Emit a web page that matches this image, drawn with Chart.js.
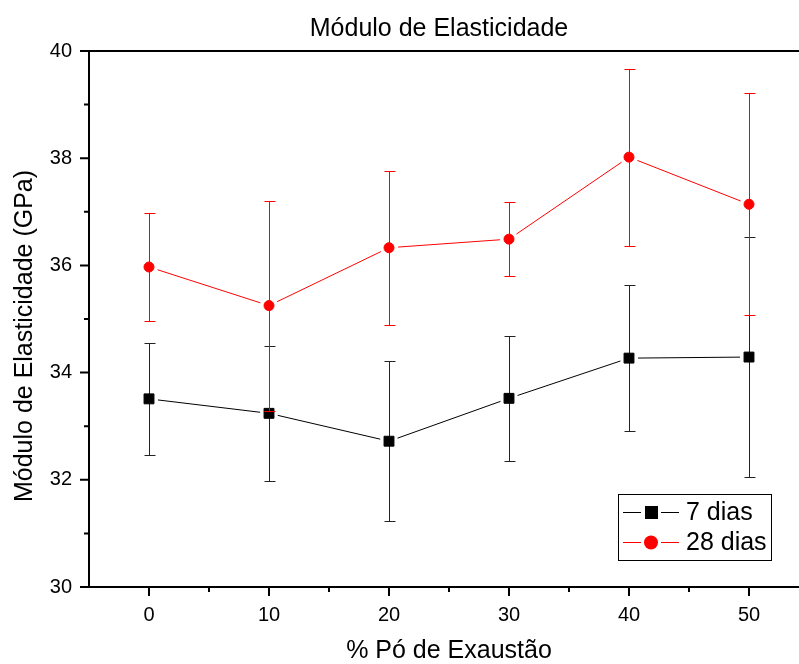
<!doctype html>
<html lang="pt-BR">
<head>
<meta charset="UTF-8">
<title>Módulo de Elasticidade</title>
<script src="https://cdn.jsdelivr.net/npm/chart.js@4"></script>
<style>
  html, body { margin: 0; padding: 0; background: #fff; overflow: hidden; }
  #grafico { display: block; }
</style>
</head>
<body>
<canvas id="grafico" width="878" height="664"></canvas>

<script>
// teor de pó de exaustão (%)
const dosagens = [0, 10, 20, 30, 40, 50];

// módulo de elasticidade (GPa) e desvio padrão
const media7 = [33.51, 33.24, 32.72, 33.52, 34.27, 34.29];
const erro7 = [1.04, 1.26, 1.49, 1.17, 1.36, 2.24];
const media28 = [35.97, 35.25, 36.33, 36.49, 38.02, 37.14];
const erro28 = [1.01, 1.96, 1.44, 0.69, 1.65, 2.07];

const ticksX = [0, 10, 20, 30, 40, 50];
const menoresX = [5, 15, 25, 35, 45];
const ticksY = [30, 32, 34, 36, 38, 40];
const menoresY = [31, 33, 35, 37, 39];

const fonte = '"Liberation Sans", Arial, sans-serif';

// linhas com folga em volta dos símbolos + barras de erro, antes dos pontos
const tracos = {
    id: 'tracos',
    beforeDatasetDraw(chart, args) {
        const ds = chart.data.datasets[args.index];
        const pts = args.meta.data;
        const ctx = chart.ctx;
        const y = chart.scales.y;
        const folga = 9;

        ctx.save();
        ctx.lineWidth = 1;
        ctx.strokeStyle = ds.borderColor;
        ctx.beginPath();
        for (let i = 1; i < pts.length; i++) {
            const a = pts[i - 1], b = pts[i];
            const dx = b.x - a.x, dy = b.y - a.y;
            const len = Math.hypot(dx, dy);
            if (len <= 2 * folga) continue;
            ctx.moveTo(a.x + dx * folga / len, a.y + dy * folga / len);
            ctx.lineTo(b.x - dx * folga / len, b.y - dy * folga / len);
        }
        ctx.stroke();

        ctx.strokeStyle = ds.corErro;
        ctx.beginPath();
        ds.erros.forEach((e, i) => {
            const x = Math.round(pts[i].x) + 0.5;
            const v = ds.data[i].y;
            const yTop = Math.round(y.getPixelForValue(v + e)) + 0.5;
            const yBot = Math.round(y.getPixelForValue(v - e)) + 0.5;
            ctx.moveTo(x, yTop);
            ctx.lineTo(x, yBot);
            ctx.moveTo(x - 5, yTop);
            ctx.lineTo(x + 6, yTop);
            ctx.moveTo(x - 5, yBot);
            ctx.lineTo(x + 6, yBot);
        });
        ctx.stroke();
        ctx.restore();
    }
};

// moldura, marcas dos eixos, título do eixo y e legenda
const moldura = {
    id: 'moldura',
    afterDraw(chart) {
        const { ctx, chartArea: a, scales: { x, y } } = chart;
        ctx.save();
        ctx.strokeStyle = '#000';
        ctx.lineWidth = 2;
        ctx.strokeRect(a.left, a.top, a.right - a.left, a.bottom - a.top);

        ctx.beginPath();
        ticksX.forEach(v => { const p = x.getPixelForValue(v); ctx.moveTo(p, a.bottom); ctx.lineTo(p, a.bottom + 9); });
        menoresX.forEach(v => { const p = x.getPixelForValue(v); ctx.moveTo(p, a.bottom); ctx.lineTo(p, a.bottom + 5); });
        ticksY.forEach(v => { const p = y.getPixelForValue(v); ctx.moveTo(a.left, p); ctx.lineTo(a.left - 9, p); });
        menoresY.forEach(v => { const p = y.getPixelForValue(v); ctx.moveTo(a.left, p); ctx.lineTo(a.left - 5, p); });
        ctx.stroke();

        // título do eixo y
        ctx.save();
        ctx.translate(25, (a.top + a.bottom) / 2 + 17);
        ctx.rotate(-Math.PI / 2);
        ctx.fillStyle = '#000';
        ctx.font = '25px ' + fonte;
        ctx.textAlign = 'center';
        ctx.textBaseline = 'middle';
        ctx.fillText('Módulo de Elasticidade (GPa)', 0, 0);
        ctx.restore();

        // legenda
        const dir = a.right - 37, base = a.bottom - 26;
        const esq = dir - 154, topo = base - 67;
        ctx.fillStyle = '#fff';
        ctx.fillRect(esq, topo, 154, 67);
        ctx.lineWidth = 1;
        ctx.strokeStyle = '#000';
        ctx.strokeRect(esq + 0.5, topo + 0.5, 153, 66);

        chart.data.datasets.forEach((ds, i) => {
            const cy = topo + 18 + i * 30;
            ctx.strokeStyle = ds.borderColor;
            ctx.lineWidth = 1;
            ctx.beginPath();
            ctx.moveTo(esq + 5, cy + 0.5);
            ctx.lineTo(esq + 23, cy + 0.5);
            ctx.moveTo(esq + 43, cy + 0.5);
            ctx.lineTo(esq + 61, cy + 0.5);
            ctx.stroke();

            ctx.fillStyle = ds.pointBackgroundColor;
            ctx.beginPath();
            if (ds.pointStyle === 'rect') {
                ctx.rect(esq + 27, cy - 6, 13, 13);
            } else {
                ctx.arc(esq + 33, cy + 0.5, 7, 0, Math.PI * 2);
            }
            ctx.fill();

            ctx.fillStyle = '#000';
            ctx.font = '25px ' + fonte;
            ctx.textAlign = 'left';
            ctx.textBaseline = 'middle';
            ctx.fillText(ds.label, esq + 68, cy + 1);
        });
        ctx.restore();
    }
};

new Chart(document.getElementById('grafico'), {
    type: 'scatter',
    data: {
        datasets: [{
            label: '7 dias',
            data: dosagens.map((x, i) => ({ x: x, y: media7[i] })),
            erros: erro7,
            corErro: '#222',
            borderColor: '#000',
            pointStyle: 'rect',
            pointRadius: 7,
            pointBorderWidth: 1,
            pointBackgroundColor: '#000',
            pointBorderColor: '#000',
            showLine: false,
            order: 2
        }, {
            label: '28 dias',
            data: dosagens.map((x, i) => ({ x: x, y: media28[i] })),
            erros: erro28,
            corErro: '#ff0000',
            borderColor: '#ff0000',
            pointStyle: 'circle',
            pointRadius: 5,
            pointBorderWidth: 1,
            pointBackgroundColor: '#ff0000',
            pointBorderColor: '#ff0000',
            showLine: false,
            order: 1
        }]
    },
    options: {
        responsive: false,
        devicePixelRatio: 1,
        animation: false,
        events: [],
        layout: { padding: 0 },
        plugins: {
            legend: { display: false },
            tooltip: { enabled: false },
            title: {
                display: true,
                text: 'Módulo de Elasticidade',
                color: '#000',
                font: { family: fonte, size: 25, weight: 'normal', lineHeight: 1.2 },
                padding: { top: 14, bottom: 7 }
            }
        },
        scales: {
            x: {
                type: 'linear',
                min: -5,
                max: 55,
                grid: { display: false, drawTicks: false },
                border: { display: false },
                afterBuildTicks: s => { s.ticks = ticksX.map(v => ({ value: v })); },
                afterFit: s => { s.height = 77; },
                ticks: { color: '#000', font: { family: fonte, size: 20 }, padding: 16, maxRotation: 0, autoSkip: false },
                title: {
                    display: true,
                    text: '% Pó de Exaustão',
                    color: '#000',
                    font: { family: fonte, size: 25, lineHeight: 1 },
                    padding: { top: 0, bottom: 0 }
                }
            },
            y: {
                min: 30,
                max: 40,
                grid: { display: false, drawTicks: false },
                border: { display: false },
                afterBuildTicks: s => { s.ticks = ticksY.map(v => ({ value: v })); },
                afterFit: s => { s.width = 89; },
                ticks: { color: '#000', font: { family: fonte, size: 20 }, padding: 17 }
            },
            // espaço à direita, fora da janela
            y2: {
                position: 'right',
                grid: { display: false, drawTicks: false },
                border: { display: false },
                ticks: { display: false },
                afterFit: s => { s.width = 69; }
            }
        }
    },
    plugins: [tracos, moldura]
});
</script>
</body>
</html>
